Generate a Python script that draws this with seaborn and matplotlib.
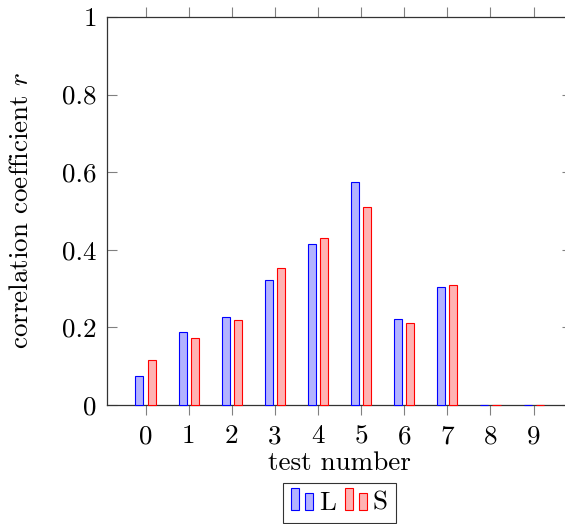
import matplotlib
matplotlib.use("Agg")
import matplotlib.pyplot as plt
import seaborn as sns
import pandas as pd
from matplotlib.patches import Patch, Rectangle
from matplotlib.legend_handler import HandlerBase

tests = [0, 1, 2, 3, 4, 5, 6, 7, 8, 9]
L_vals = [0.075, 0.187, 0.227, 0.321, 0.414, 0.574, 0.221, 0.304, 0.0, 0.0]
S_vals = [0.115, 0.172, 0.218, 0.352, 0.430, 0.510, 0.211, 0.310, 0.0, 0.0]
series = ["L", "S"]
fills = {"L": "#b3b3ff", "S": "#ffb3b3"}
edges = {"L": "#0000ff", "S": "#ff0000"}
yticks = [0, 0.2, 0.4, 0.6, 0.8, 1.0]
ytick_labels = ["0", "0.2", "0.4", "0.6", "0.8", "1"]

df = pd.DataFrame({
    "test": tests * 2,
    "r": L_vals + S_vals,
    "series": ["L"] * len(tests) + ["S"] * len(tests),
})

plt.rcParams["font.family"] = ["cmr10", "DejaVu Serif"]
plt.rcParams["mathtext.fontset"] = "cm"
plt.rcParams["axes.formatter.use_mathtext"] = True

fig = plt.figure(figsize=(5.65, 5.24), dpi=100)
ax = fig.add_axes([106.7 / 565, 1 - 405 / 524, (572.4 - 106.7) / 565, (405 - 17) / 524])

sns.barplot(data=df, x="test", y="r", hue="series", hue_order=series,
            palette=fills, saturation=1, width=0.56, gap=0.335,
            legend=False, ax=ax, linewidth=0.8)
for cont, s in zip(ax.containers, series):
    for p in cont:
        p.set_edgecolor(edges[s])
        p.set_linewidth(0.8)
        p.set_zorder(3)
        p.set_clip_on(False)

ax.set_xlim(-0.9, 9.9)
ax.set_ylim(0, 1)
ax.set_yticks(yticks)
ax.set_yticklabels(ytick_labels)
ax.set_xticks(range(len(tests)))
ax.set_xticklabels([str(t) for t in tests])

fs = 19.5
ax.tick_params(axis="x", which="both", direction="out", length=7, width=0.8,
               color="#808080", top=True, bottom=True, labelsize=fs, pad=7)
ax.tick_params(axis="y", which="both", direction="in", length=7, width=0.8,
               color="#808080", left=True, right=True, labelsize=fs, pad=7)
for sp in ax.spines.values():
    sp.set_color("#333333")
    sp.set_linewidth(0.9)

ax.set_xlabel("test number", fontsize=fs, labelpad=2)
ax.set_ylabel("correlation coefficient $r$", fontsize=fs, labelpad=21)


class TwoBarHandler(HandlerBase):
    def create_artists(self, legend, orig_handle, xdescent, ydescent,
                       width, height, fontsize, trans):
        fc = orig_handle.get_facecolor()
        ec = orig_handle.get_edgecolor()
        bw = width * 0.35
        r1 = Rectangle((-xdescent, -ydescent), bw, height * 1.16,
                       facecolor=fc, edgecolor=ec, lw=0.8, transform=trans)
        r2 = Rectangle((-xdescent + width * 0.62, -ydescent), bw, height * 0.9,
                       facecolor=fc, edgecolor=ec, lw=0.8, transform=trans)
        return [r1, r2]


handles = [Patch(facecolor=fills[s], edgecolor=edges[s], label=s) for s in series]
leg = ax.legend(handles=handles, loc="upper center", bbox_to_anchor=(0.5, -0.2),
                ncol=2, frameon=True, fancybox=False, edgecolor="black",
                fontsize=fs, handler_map={Patch: TwoBarHandler()},
                handlelength=0.85, handletextpad=0.2, columnspacing=0.3,
                borderpad=0.3, borderaxespad=0)
leg.get_frame().set_linewidth(0.8)

fig.savefig("out.png", dpi=100)
